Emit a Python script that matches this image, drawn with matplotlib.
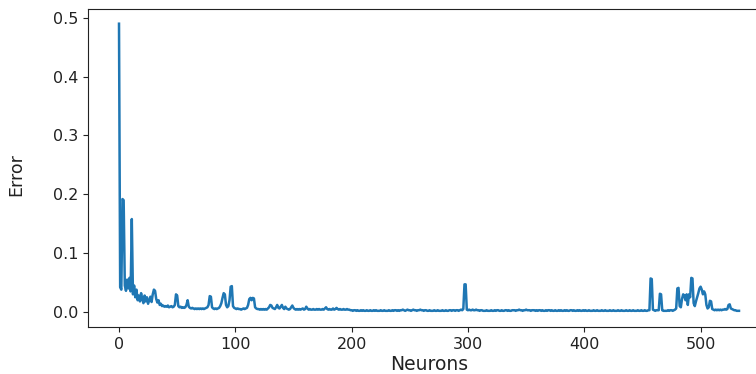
import matplotlib
matplotlib.use("Agg")
import matplotlib.pyplot as plt

# Error per neuron count
err_000 = [0.49, 0.042, 0.038, 0.192, 0.19, 0.045, 0.036, 0.055, 0.04, 0.058,
           0.035, 0.158, 0.03, 0.045, 0.025, 0.038, 0.02, 0.028, 0.018, 0.032]
err_020 = [0.022, 0.015, 0.028, 0.018, 0.025, 0.014, 0.02, 0.026, 0.017, 0.03,
           0.038, 0.036, 0.022, 0.016, 0.02, 0.012, 0.014, 0.01, 0.011, 0.009]
err_040 = [0.01, 0.009, 0.011, 0.008, 0.009, 0.01, 0.008, 0.009, 0.012, 0.03,
           0.028, 0.01, 0.008, 0.009, 0.007, 0.008, 0.007, 0.008, 0.012, 0.02]
err_060 = [0.009, 0.007, 0.006, 0.007, 0.006, 0.005, 0.006, 0.005, 0.006, 0.005,
           0.006, 0.005, 0.006, 0.005, 0.006, 0.007, 0.008, 0.012, 0.027, 0.026]
err_080 = [0.008, 0.006, 0.005, 0.006, 0.005, 0.006, 0.007, 0.01, 0.015, 0.024,
           0.032, 0.03, 0.012, 0.008, 0.01, 0.02, 0.043, 0.044, 0.01, 0.007]
err_100 = [0.006, 0.005, 0.006, 0.005, 0.005, 0.004, 0.005, 0.006, 0.005, 0.006,
           0.007, 0.012, 0.022, 0.024, 0.02, 0.024, 0.023, 0.008, 0.006, 0.005]
err_120 = [0.005, 0.004, 0.005, 0.004, 0.005, 0.004, 0.005, 0.004, 0.006, 0.008,
           0.012, 0.011, 0.007, 0.006, 0.005, 0.008, 0.012, 0.007, 0.006, 0.009]
err_140 = [0.012, 0.007, 0.005, 0.009, 0.006, 0.005, 0.004, 0.005, 0.008, 0.011,
           0.007, 0.005, 0.004, 0.005, 0.004, 0.005, 0.004, 0.005, 0.006, 0.004]
err_160 = [0.005, 0.009, 0.006, 0.004, 0.005, 0.004, 0.004, 0.005, 0.004, 0.004,
           0.005, 0.004, 0.005, 0.004, 0.004, 0.005, 0.004, 0.006, 0.008, 0.005]
err_180 = [0.004, 0.005, 0.004, 0.004, 0.006, 0.004, 0.005, 0.007, 0.005, 0.004,
           0.005, 0.004, 0.004, 0.005, 0.004, 0.004, 0.005, 0.004, 0.004, 0.003]
err_200 = [0.003, 0.002, 0.003, 0.003, 0.002, 0.003, 0.002, 0.002, 0.003, 0.002,
           0.003, 0.002, 0.002, 0.003, 0.002, 0.002, 0.003, 0.002, 0.002, 0.003]
err_220 = [0.002, 0.003, 0.002, 0.002, 0.002, 0.003, 0.002, 0.002, 0.003, 0.002,
           0.002, 0.002, 0.003, 0.002, 0.002, 0.003, 0.002, 0.003, 0.003, 0.002]
err_240 = [0.003, 0.002, 0.003, 0.003, 0.004, 0.003, 0.002, 0.003, 0.004, 0.003,
           0.003, 0.002, 0.003, 0.004, 0.003, 0.003, 0.002, 0.003, 0.003, 0.004]
err_260 = [0.003, 0.003, 0.002, 0.003, 0.003, 0.002, 0.002, 0.003, 0.002, 0.002,
           0.002, 0.003, 0.002, 0.002, 0.003, 0.002, 0.002, 0.002, 0.003, 0.002]
err_280 = [0.002, 0.003, 0.002, 0.002, 0.003, 0.003, 0.002, 0.003, 0.003, 0.002,
           0.003, 0.003, 0.002, 0.003, 0.004, 0.003, 0.005, 0.047, 0.047, 0.004]
err_300 = [0.003, 0.004, 0.003, 0.003, 0.004, 0.003, 0.003, 0.004, 0.003, 0.003,
           0.002, 0.003, 0.003, 0.002, 0.002, 0.002, 0.003, 0.002, 0.002, 0.002]
err_320 = [0.003, 0.002, 0.002, 0.003, 0.002, 0.003, 0.003, 0.002, 0.002, 0.003,
           0.002, 0.002, 0.003, 0.003, 0.002, 0.003, 0.002, 0.002, 0.003, 0.003]
err_340 = [0.003, 0.002, 0.003, 0.003, 0.004, 0.003, 0.003, 0.002, 0.003, 0.003,
           0.004, 0.003, 0.003, 0.003, 0.002, 0.003, 0.003, 0.003, 0.002, 0.003]
err_360 = [0.002, 0.003, 0.003, 0.002, 0.003, 0.002, 0.002, 0.003, 0.002, 0.003,
           0.003, 0.002, 0.003, 0.002, 0.002, 0.003, 0.002, 0.002, 0.003, 0.002]
err_380 = [0.003, 0.002, 0.002, 0.003, 0.002, 0.003, 0.002, 0.002, 0.003, 0.003,
           0.002, 0.003, 0.002, 0.002, 0.003, 0.002, 0.003, 0.002, 0.002, 0.003]
err_400 = [0.002, 0.003, 0.002, 0.002, 0.003, 0.002, 0.002, 0.002, 0.003, 0.002,
           0.002, 0.003, 0.002, 0.002, 0.002, 0.003, 0.002, 0.002, 0.003, 0.002]
err_420 = [0.002, 0.002, 0.003, 0.002, 0.002, 0.003, 0.002, 0.002, 0.002, 0.003,
           0.002, 0.002, 0.003, 0.002, 0.002, 0.002, 0.003, 0.002, 0.002, 0.003]
err_440 = [0.002, 0.002, 0.003, 0.002, 0.002, 0.002, 0.003, 0.002, 0.002, 0.003,
           0.002, 0.002, 0.003, 0.002, 0.002, 0.003, 0.003, 0.057, 0.056, 0.004]
err_460 = [0.003, 0.002, 0.003, 0.003, 0.003, 0.031, 0.03, 0.003, 0.002, 0.002,
           0.002, 0.002, 0.003, 0.002, 0.003, 0.003, 0.002, 0.003, 0.004, 0.006]
err_480 = [0.04, 0.041, 0.01, 0.008, 0.022, 0.03, 0.028, 0.02, 0.03, 0.012,
           0.03, 0.025, 0.058, 0.057, 0.015, 0.01, 0.018, 0.025, 0.032, 0.04]
err_500 = [0.043, 0.038, 0.03, 0.035, 0.03, 0.012, 0.006, 0.008, 0.019, 0.018,
           0.005, 0.004, 0.003, 0.004, 0.003, 0.004, 0.003, 0.004, 0.003, 0.004]
err_520 = [0.004, 0.005, 0.004, 0.005, 0.012, 0.013, 0.006, 0.005, 0.004, 0.003,
           0.003, 0.002, 0.002, 0.002]

errors = (err_000 + err_020 + err_040 + err_060 + err_080 + err_100 + err_120
          + err_140 + err_160 + err_180 + err_200 + err_220 + err_240 + err_260
          + err_280 + err_300 + err_320 + err_340 + err_360 + err_380 + err_400
          + err_420 + err_440 + err_460 + err_480 + err_500 + err_520)
neurons = list(range(len(errors)))

W, H = 756, 374
fig = plt.figure(figsize=(W / 100, H / 100), dpi=100)
# axes extends beyond the right edge (reference is cropped there)
ax = fig.add_axes([88 / W, 47 / H, 682 / W, 318 / H])
ax.plot(neurons, errors, color="#1f77b4", linewidth=1.8)
ax.set_ylim(-0.0255, 0.515)
ax.set_xlabel("Neurons", fontsize=13.5, color="#222222")
ax.set_ylabel("Error", fontsize=12.5, color="#222222")
ax.xaxis.set_label_coords(0.5, (327 - 355.5) / 318)
ax.yaxis.set_label_coords((25 - 88) / 682, (327 - 175) / 318)
ax.tick_params(labelsize=11.5, colors="#222222")
for s in ax.spines.values():
    s.set_color("#222222")
fig.savefig("out.png", dpi=100)
